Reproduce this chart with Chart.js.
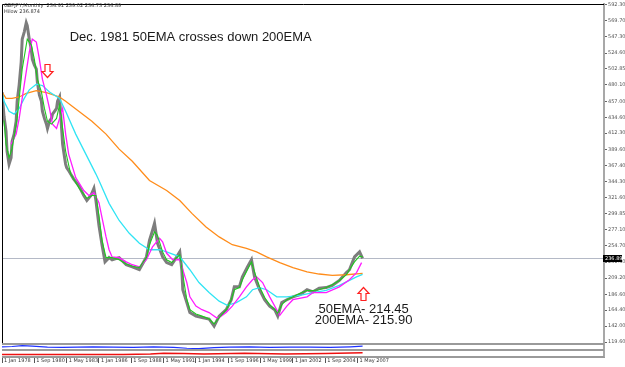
<!DOCTYPE html>
<html>
<head>
<meta charset="utf-8">
<script src="https://cdn.jsdelivr.net/npm/chart.js@4.4.1/dist/chart.umd.min.js"></script>
<style>
  html, body { margin: 0; padding: 0; background: #fff; }
  #wrap { width: 625px; height: 367px; }
</style>
</head>
<body>
<div id="wrap"><canvas id="chartGbpJpy" width="625" height="367"></canvas></div>
<script>
// GBPJPY mensual: precio (gris) + EMAs, meses contados desde Ene 1978
var precio = [[0,470],[2,436],[4,415],[5,387],[7,369],[9,378],[10,401],[12,411],[14,429],[15,457],[17,480],[19,512],[20,544],[22,554],[24,567],[25,563],[27,544],[29,530],[30,516],[32,508],[34,502],[35,484],[37,466],[39,457],[40,443],[42,433],[44,425],[45,419],[47,429],[49,433],[50,439],[52,443],[54,447],[55,457],[57,463],[59,419],[60,397],[62,378],[63,369],[64,364],[66,360],[68,355],[71,348],[76,339],[81,325],[84,318],[88,325],[91,335],[93,318],[96,283],[99,256],[102,232],[106,238],[109,235],[116,238],[123,228],[129,225],[136,221],[143,239],[146,262],[149,276],[151,286],[154,258],[159,239],[163,231],[168,228],[173,239],[176,246],[178,221],[179,193],[183,175],[186,161],[192,156],[198,154],[205,152],[210,142],[215,156],[222,165],[227,179],[230,197],[235,197],[238,211],[243,225],[247,235],[250,211],[255,193],[260,179],[265,170],[270,165],[273,156],[277,175],[282,179],[288,183],[295,186],[302,193],[308,190],[314,195],[321,196],[327,199],[334,206],[341,217],[344,221],[349,239],[354,246],[357,236.89]];

var emaVerde = [[2,430],[4,397],[7,378],[10,391],[15,433],[20,502],[25,544],[29,536],[32,516],[35,488],[39,470],[42,447],[45,429],[49,425],[54,433],[57,452],[60,419],[63,387],[68,355],[76,336],[84,321],[89,325],[93,325],[96,297],[99,262],[103,238],[109,238],[116,235],[123,229],[129,226],[136,224],[143,238],[146,256],[151,274],[154,269],[159,246],[163,235],[168,231],[173,238],[176,242],[179,214],[183,179],[186,165],[192,159],[198,156],[205,152],[210,145],[215,154],[222,165],[227,179],[230,193],[235,196],[238,207],[243,221],[247,232],[250,218],[255,197],[260,182],[265,172],[270,165],[273,160],[277,172],[282,179],[288,183],[295,188],[302,192],[308,192],[314,193],[321,196],[327,200],[334,206],[341,214],[344,221],[349,232],[354,240],[357,239]];

var emaMagenta = [[9,397],[14,411],[17,433],[22,480],[27,526],[30,544],[34,540],[37,516],[40,488],[44,466],[47,447],[50,425],[54,419],[57,433],[60,447],[63,411],[66,383],[73,350],[81,332],[86,325],[91,329],[96,315],[99,294],[103,267],[106,249],[109,239],[116,238],[123,232],[129,228],[136,225],[143,235],[149,253],[156,265],[159,260],[163,244],[169,235],[176,235],[179,221],[183,203],[186,183],[192,170],[198,165],[205,161],[212,154],[215,154],[222,161],[228,170],[235,183],[242,197],[248,207],[252,211],[258,203],[265,183],[272,165],[275,157],[282,170],[288,179],[302,183],[308,189],[321,189],[334,197],[344,207],[351,217],[356,231]];

var ema50 = [[0,470],[2,457],[7,443],[12,439],[17,447],[22,461],[27,473],[34,481],[40,479],[47,470],[57,461],[63,443],[73,411],[83,383],[93,355],[96,346],[106,314],[116,290],[126,272],[136,258],[146,249],[156,249],[163,246],[176,239],[186,221],[195,203],[205,189],[215,177],[223,171],[232,175],[242,183],[248,193],[255,196],[262,193],[272,183],[282,183],[295,185],[308,189],[321,192],[334,199],[344,206],[351,211],[357,214.45]];

var ema200 = [[0,470],[4,461],[10,461],[17,463],[24,468],[34,472],[44,469],[57,463],[63,457],[76,443],[89,429],[103,411],[116,390],[129,373],[146,346],[163,332],[176,318],[188,300],[202,281],[215,267],[228,256],[242,251],[252,246],[262,239],[275,231],[288,224],[302,218],[314,215],[327,213],[341,214],[357,215.9]];

// paneles inferiores (osciladores)
var osciAzul = [[0,55],[10,60],[20,75],[30,65],[45,50],[60,45],[75,50],[90,55],[110,50],[130,45],[150,55],[170,45],[183,30],[195,25],[210,40],[225,50],[245,55],[265,45],[285,50],[305,50],[325,45],[345,55],[357,65]];
var osciRojo = [[0,35],[40,35],[80,35],[120,35],[147,45],[160,55],[180,50],[200,45],[240,55],[280,45],[320,50],[357,60]];

var xTickMonths = [0, 32, 64, 96, 128, 160, 192, 224, 256, 288, 320, 352];
var xTickLabels = ["1 Jan 1978", "1 Sep 1980", "1 May 1983", "1 Jan 1986", "1 Sep 1988", "1 May 1991",
                   "1 Jan 1994", "1 Sep 1996", "1 May 1999", "1 Jan 2002", "1 Sep 2004", "1 May 2007"];
var yTickLabels = ["592.30", "569.70", "547.30", "524.60", "502.85", "480.10", "457.00", "434.60", "412.30",
                   "389.60", "367.40", "344.30", "321.60", "299.85", "277.10", "254.70", "231.60", "209.20",
                   "186.60", "164.40", "142.00", "119.60"];

var ultimoPrecio = 236.89;
var cabecera = ["GBPJPY,Monthly  234.91 239.02 234.73 236.89", "Hilow 236.874"];
var titulo = { mes: 67, valor: 546, texto: "Dec. 1981 50EMA crosses down 200EMA" };
var notas = [
    { mes: 358, valor: 166, texto: "50EMA- 214.45" },
    { mes: 358, valor: 149.5, texto: "200EMA- 215.90" }
];
var flechas = [
    { mes: 45, valor: 499, dir: 'down' },
    { mes: 357, valor: 188, dir: 'up' }
];

function puntos(arr) {
    return arr.map(function (p) { return { x: p[0], y: p[1] }; });
}

function linea(label, arr, color, width, eje) {
    return {
        label: label,
        data: puntos(arr),
        borderColor: color,
        borderWidth: width,
        pointRadius: 0,
        tension: 0,
        fill: false,
        yAxisID: eje || 'y'
    };
}

function flecha(ctx, cx, cy, dir) {
    var s = dir === 'down' ? 1 : -1;
    ctx.beginPath();
    ctx.moveTo(cx - 2.5, cy - 7 * s);
    ctx.lineTo(cx + 2.5, cy - 7 * s);
    ctx.lineTo(cx + 2.5, cy);
    ctx.lineTo(cx + 5.5, cy);
    ctx.lineTo(cx, cy + 6 * s);
    ctx.lineTo(cx - 5.5, cy);
    ctx.lineTo(cx - 2.5, cy);
    ctx.closePath();
    ctx.fillStyle = '#fff';
    ctx.fill();
    ctx.strokeStyle = '#ff2020';
    ctx.lineWidth = 1.2;
    ctx.stroke();
}

var decoPlugin = {
    id: 'deco',
    beforeDatasetsDraw: function (chart) {
        var ctx = chart.ctx, a = chart.chartArea, y = chart.scales.y;
        var py = Math.round(y.getPixelForValue(ultimoPrecio)) + 0.5;
        ctx.save();
        ctx.strokeStyle = '#b4b9c6';
        ctx.lineWidth = 1;
        ctx.beginPath();
        ctx.moveTo(a.left, py);
        ctx.lineTo(a.right, py);
        ctx.stroke();
        ctx.restore();
    },
    afterDraw: function (chart) {
        var ctx = chart.ctx, a = chart.chartArea;
        var x = chart.scales.x, y = chart.scales.y, y2 = chart.scales.y2, y3 = chart.scales.y3;
        ctx.save();

        // marco
        ctx.strokeStyle = '#000';
        ctx.lineWidth = 1;
        ctx.beginPath();
        ctx.moveTo(a.left + 0.5, y.bottom);
        ctx.lineTo(a.left + 0.5, a.top + 0.5);
        ctx.lineTo(a.right, a.top + 0.5);
        ctx.stroke();
        ctx.strokeStyle = '#9a9a9a';
        ctx.lineWidth = 2;
        [y.bottom, y2.bottom, y3.bottom].forEach(function (b) {
            ctx.beginPath();
            ctx.moveTo(a.left, b);
            ctx.lineTo(a.right, b);
            ctx.stroke();
        });

        // cabecera
        ctx.fillStyle = '#333';
        ctx.font = '5px "DejaVu Sans", sans-serif';
        ctx.textBaseline = 'top';
        ctx.textAlign = 'left';
        ctx.fillText(cabecera[0], a.left + 2, 3);
        ctx.fillText(cabecera[1], a.left + 2, 9);

        // textos
        ctx.fillStyle = '#1a1a1a';
        ctx.font = '13px "Liberation Sans", Arial, sans-serif';
        ctx.textBaseline = 'middle';
        ctx.fillText(titulo.texto, x.getPixelForValue(titulo.mes), y.getPixelForValue(titulo.valor));
        ctx.textAlign = 'center';
        notas.forEach(function (n) {
            ctx.fillText(n.texto, x.getPixelForValue(n.mes), y.getPixelForValue(n.valor));
        });

        // flechas
        flechas.forEach(function (f) {
            flecha(ctx, Math.round(x.getPixelForValue(f.mes)) + 0.5, Math.round(y.getPixelForValue(f.valor)) + 0.5, f.dir);
        });

        // caja de precio actual
        var py = Math.round(y.getPixelForValue(ultimoPrecio));
        ctx.fillStyle = '#000';
        ctx.fillRect(a.right - 1, py - 3, 19, 7);
        ctx.fillStyle = '#fff';
        ctx.font = '5px "DejaVu Sans", sans-serif';
        ctx.textAlign = 'left';
        ctx.fillText(ultimoPrecio.toFixed(2), a.right + 1, py + 0.5);
        ctx.restore();
    }
};

var ctxChart = document.getElementById('chartGbpJpy');

var chartGbpJpy = new Chart(ctxChart, {
    type: 'line',
    data: {
        datasets: [
            linea('EMA rapida', emaVerde, '#1ec81e', 1.1),
            linea('EMA media', emaMagenta, '#ff1cff', 1.3),
            linea('50EMA', ema50, '#30e4f4', 1.3),
            linea('200EMA', ema200, '#ff8c1a', 1.3),
            linea('GBPJPY', precio, '#7d7d7d', 3),
            linea('Osc azul', osciAzul, '#1e32ff', 1.2, 'y2'),
            linea('Osc rojo', osciRojo, '#ee1010', 1.5, 'y3')
        ]
    },
    options: {
        responsive: false,
        animation: false,
        devicePixelRatio: 1,
        layout: { padding: { left: 2, top: 1, right: 0, bottom: 0 } },
        plugins: { legend: { display: false }, tooltip: { enabled: false } },
        scales: {
            x: {
                type: 'linear',
                min: 0,
                max: 596,
                grid: { display: true, drawOnChartArea: false, tickLength: 6, color: '#555' },
                border: { display: true, color: '#9a9a9a', width: 1 },
                afterBuildTicks: function (s) {
                    s.ticks = xTickMonths.map(function (m) { return { value: m }; });
                },
                afterFit: function (s) { s.height = 10; },
                ticks: {
                    autoSkip: false,
                    maxRotation: 0,
                    align: 'start',
                    labelOffset: 2,
                    padding: -5,
                    color: '#333',
                    font: { size: 5, family: '"DejaVu Sans", sans-serif' },
                    callback: function (v, i) { return xTickLabels[i]; }
                }
            },
            y: {
                type: 'linear',
                position: 'right',
                stack: 'paneles',
                stackWeight: 343,
                min: 116.8,
                max: 593.3,
                grid: { display: true, drawOnChartArea: false, tickLength: 3, color: '#666' },
                border: { display: true, color: '#a8a8a8', width: 2 },
                afterBuildTicks: function (s) {
                    s.ticks = yTickLabels.map(function (t) { return { value: parseFloat(t) }; });
                },
                afterFit: function (s) { s.width = 21; },
                ticks: {
                    autoSkip: false,
                    padding: 1,
                    color: '#555',
                    font: { size: 5, family: '"DejaVu Sans", sans-serif' },
                    callback: function (v, i) { return yTickLabels[i]; }
                }
            },
            y2: {
                type: 'linear',
                position: 'right',
                stack: 'paneles',
                stackWeight: 6,
                min: 0,
                max: 100,
                grid: { display: false },
                border: { display: true, color: '#a8a8a8', width: 2 },
                afterFit: function (s) { s.width = 21; },
                ticks: { display: false }
            },
            y3: {
                type: 'linear',
                position: 'right',
                stack: 'paneles',
                stackWeight: 7,
                min: 0,
                max: 100,
                grid: { display: false },
                border: { display: true, color: '#a8a8a8', width: 2 },
                afterFit: function (s) { s.width = 21; },
                ticks: { display: false }
            }
        }
    },
    plugins: [decoPlugin]
});
</script>
</body>
</html>
